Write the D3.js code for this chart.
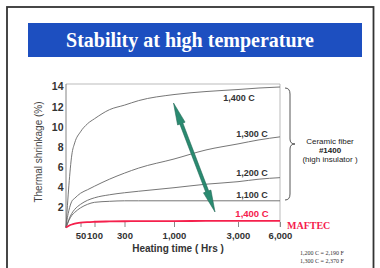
<!DOCTYPE html>
<html>
<head>
  <script src="https://cdn.jsdelivr.net/npm/d3@7"></script>
  <style>
    body { margin: 0; background: #fff; }
    text { font-family: "Liberation Sans", Arial, sans-serif; }
  </style>
</head>
<body>
<div id="chart"></div>
<script>
  // heating time samples (hrs) and shrinkage (%)
  const times = [0, 5, 10, 20, 30, 50, 75, 100, 200, 300, 500, 1000, 2000, 3000, 4500, 6000];
  const fiber1400 = [0, 2.2, 4.2, 7.2, 8.4, 9.5, 10.3, 10.8, 11.7, 12.15, 12.6, 13.2, 13.5, 13.7, 13.85, 13.95];
  const fiber1300 = [0, 1.0, 1.7, 2.6, 2.9, 3.4, 3.75, 4.1, 4.8, 5.4, 5.9, 6.8, 7.7, 8.3, 8.7, 9.0];
  const fiber1200 = [0, 0.4, 0.8, 1.4, 1.8, 2.3, 2.7, 2.95, 3.25, 3.45, 3.6, 3.95, 4.3, 4.55, 4.8, 4.95];
  const fiber1100 = [0, 0.35, 0.7, 1.2, 1.5, 1.95, 2.3, 2.5, 2.6, 2.65, 2.65, 2.65, 2.65, 2.65, 2.65, 2.65];
  const maftec1400 = [0, 0.1, 0.18, 0.3, 0.38, 0.48, 0.54, 0.57, 0.6, 0.62, 0.63, 0.64, 0.65, 0.65, 0.65, 0.65];

  const xTicks = [50, 100, 300, 1000, 3000, 6000];
  const yTicks = [2, 4, 6, 8, 10, 12, 14];
  const fiberSeries = [
    { name: '1,400 C', values: fiber1400 },
    { name: '1,300 C', values: fiber1300 },
    { name: '1,200 C', values: fiber1200 },
    { name: '1,100 C', values: fiber1100 }
  ];
  const notes = ['1,200 C = 2,190 F', '1,300 C = 2,370 F'];

  const w = 380, h = 268;
  const svg = d3.select('#chart').append('svg').attr('width', w).attr('height', h);

  // slide frame
  svg.append('rect').attr('x', 7).attr('y', 7).attr('width', 366.5).attr('height', 275)
    .attr('fill', 'none').attr('stroke', '#333').attr('stroke-width', 1.8);

  // title banner
  svg.append('rect').attr('x', 28).attr('y', 23).attr('width', 334).attr('height', 34).attr('fill', '#1d4fc0');
  svg.append('text').attr('x', 190).attr('y', 47).attr('text-anchor', 'middle')
    .style('font-family', '"Liberation Serif", "Times New Roman", serif')
    .style('font-weight', 'bold').style('font-size', '20px').attr('fill', '#fff')
    .text('Stability at high temperature');

  // the time axis is not uniform, so map it piecewise
  const x = d3.scaleLinear()
    .domain([0, 50, 100, 300, 1000, 3000, 6000])
    .range([66, 80.5, 94.5, 124.5, 174, 238, 280]);
  const y = d3.scaleLinear().domain([0, 14]).range([227.5, 86.5]);

  // plot frame
  svg.append('path').attr('d', `M66,84H280V227`).attr('fill', 'none').attr('stroke', '#aaa').attr('stroke-width', 0.8);
  svg.append('line').attr('x1', 66).attr('x2', 66).attr('y1', 84).attr('y2', 227.5)
    .attr('stroke', '#777').attr('stroke-width', 0.9);

  const yAxis = svg.append('g').attr('transform', 'translate(66,0)')
    .call(d3.axisLeft(y).tickValues(yTicks).tickSize(0).tickPadding(2.5));
  yAxis.select('.domain').remove();
  yAxis.selectAll('text').style('font-size', '10.5px').style('font-weight', 'bold').attr('fill', '#333');

  const xAxis = svg.append('g').attr('transform', 'translate(0,227)')
    .call(d3.axisBottom(x).tickValues(xTicks).tickSizeInner(-5).tickSizeOuter(0).tickPadding(5).tickFormat(d3.format(',')));
  xAxis.select('.domain').remove();
  xAxis.selectAll('line').attr('stroke', '#888');
  xAxis.selectAll('text').style('font-size', '9.5px').style('font-weight', 'bold').attr('fill', '#333');

  svg.append('text').attr('x', 178).attr('y', 252).attr('text-anchor', 'middle')
    .style('font-size', '10px').style('font-weight', 'bold').attr('fill', '#333')
    .text('Heating time ( Hrs )');
  svg.append('text').attr('transform', 'translate(42,152) rotate(-90)').attr('text-anchor', 'middle')
    .style('font-size', '10px').attr('fill', '#444')
    .text('Thermal shrinkage (%)');

  const line = d3.line().x((d, i) => x(times[i])).y(d => y(d)).curve(d3.curveMonotoneX);

  svg.selectAll('.fiber').data(fiberSeries).enter().append('path')
    .attr('class', 'fiber')
    .attr('d', d => line(d.values))
    .attr('fill', 'none').attr('stroke', '#666').attr('stroke-width', 0.9);

  svg.selectAll('.flabel').data(fiberSeries).enter().append('text')
    .attr('class', 'flabel')
    .attr('x', (d, i) => i === 0 ? 239 : 252)
    .attr('y', (d, i) => i === 0 ? 101 : y(d.values[d.values.length - 2]) - 3)
    .attr('text-anchor', 'middle')
    .style('font-size', '9px').style('font-weight', 'bold').attr('fill', '#333')
    .text(d => d.name);

  svg.append('path').attr('d', line(maftec1400))
    .attr('fill', 'none').attr('stroke', '#f5204c').attr('stroke-width', 1.8);
  svg.append('text').attr('x', 252).attr('y', y(maftec1400[maftec1400.length - 1]) - 3.5)
    .attr('text-anchor', 'middle').style('font-size', '9.5px').style('font-weight', 'bold')
    .attr('fill', '#f5204c').text('1,400 C');
  svg.append('text').attr('x', 287).attr('y', 229)
    .style('font-family', '"Liberation Serif", "Times New Roman", serif')
    .style('font-size', '10px').style('font-weight', 'bold').attr('fill', '#f5204c')
    .text('MAFTEC');

  // double-headed green arrow
  const p1 = [173.5, 103], p2 = [215, 212];
  const len = Math.hypot(p2[0] - p1[0], p2[1] - p1[1]);
  const ang = Math.atan2(p2[1] - p1[1], p2[0] - p1[0]) * 180 / Math.PI;
  const hl = 22, hw = 4, sw = 1.6;
  svg.append('path')
    .attr('transform', `translate(${p1[0]},${p1[1]}) rotate(${ang})`)
    .attr('d', `M0,0L${hl},${-hw}L${hl},${-sw}L${len - hl},${-sw}L${len - hl},${-hw}L${len},0L${len - hl},${hw}L${len - hl},${sw}L${hl},${sw}L${hl},${hw}Z`)
    .attr('fill', '#2a8a70').attr('stroke', '#1e6654').attr('stroke-width', 0.5);

  // brace for the ceramic fiber group
  const bx = 285, bTop = 88, bBot = 200, bMid = 144;
  svg.append('path')
    .attr('d', `M${bx},${bTop}Q${bx + 5},${bTop} ${bx + 5},${bTop + 6}L${bx + 5},${bMid - 5}Q${bx + 5},${bMid} ${bx + 10},${bMid}` +
      `Q${bx + 5},${bMid} ${bx + 5},${bMid + 5}L${bx + 5},${bBot - 6}Q${bx + 5},${bBot} ${bx},${bBot}`)
    .attr('fill', 'none').attr('stroke', '#444').attr('stroke-width', 0.9);

  const groupText = ['Ceramic fiber', '#1400', '(high insulator )'];
  svg.selectAll('.gtext').data(groupText).enter().append('text')
    .attr('class', 'gtext')
    .attr('x', 330).attr('y', (d, i) => 144 + i * 9)
    .attr('text-anchor', 'middle')
    .style('font-size', '8px').style('font-weight', (d, i) => i === 1 ? 'bold' : 'normal')
    .attr('fill', '#222').text(d => d);

  svg.selectAll('.note').data(notes).enter().append('text')
    .attr('class', 'note')
    .attr('x', 300).attr('y', (d, i) => 255 + i * 8)
    .style('font-family', '"Liberation Serif", "Times New Roman", serif')
    .style('font-size', '6px').attr('fill', '#333').text(d => d);
</script>
</body>
</html>
